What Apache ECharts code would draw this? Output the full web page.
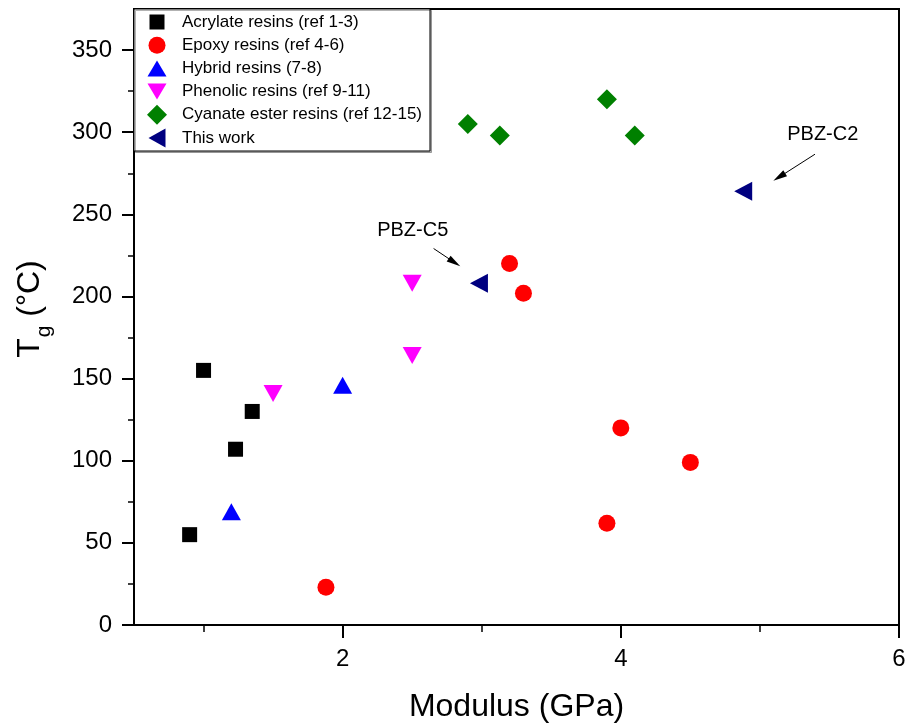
<!DOCTYPE html>
<html>
<head>
<meta charset="utf-8">
<script src="https://cdn.jsdelivr.net/npm/echarts@6/dist/echarts.min.js"></script>
<style>html,body{margin:0;padding:0;background:#fff;}#c{width:908px;height:727px;}</style>
</head>
<body>
<div id="c"></div>
<script>
const seriesNames = ['Acrylate resins (ref 1-3)','Epoxy resins (ref 4-6)','Hybrid resins (7-8)','Phenolic resins (ref 9-11)','Cyanate ester resins (ref 12-15)','This work'];
const acrylate = [[0.9,55],[1.0,155],[1.23,107],[1.35,130]];
const epoxy = [[1.88,23],[3.2,220],[3.3,202],[3.9,62],[4.0,120],[4.5,99]];
const hybrid = [[1.2,69],[2.0,146]];
const phenolic = [[1.5,141],[2.5,164],[2.5,208]];
const cyanate = [[2.9,305],[3.13,298],[3.9,320],[4.1,298]];
const thisWork = [[2.98,208],[4.88,264]];
const xMajorTicks = [2,4,6];
const xMinorTicks = [1,3,5];
const yMajorTicks = [0,50,100,150,200,250,300,350];
const yMinorTicks = [25,75,125,175,225,275,325];
const annotations = [
  {name:'PBZ-C5', text:[2.504,240], from:[2.654,229.2], to:[2.804,220.7]},
  {name:'PBZ-C2', text:[5.452,298.7], from:[5.396,286.6], to:[5.139,272.7]}
];

const FONT = 'Liberation Sans, Arial, sans-serif';
const chart = echarts.init(document.getElementById('c'), null, {renderer:'canvas'});
const arrowPath = 'path://M0,0 M14,14 M7,0 L10.5,14 L3.5,14 Z';
const solid = c => ({color:c, opacity:1});
const legendIcons = [
  'path://M0,0 M20,20 M2.5,2.5 L17.5,2.5 L17.5,17.5 L2.5,17.5 Z',
  'path://M0,0 M20,20 M1.5,10 A8.5,8.5 0 1 1 18.5,10 A8.5,8.5 0 1 1 1.5,10 Z',
  'path://M0,0 M20,20 M0.5,18 L10,2 L19.5,18 Z',
  'path://M0,0 M20,20 M0.5,2 L19.5,2 L10,18 Z',
  'path://M0,0 M20,20 M10,0 L20,10 L10,20 L0,10 Z',
  'path://M0,0 M20,20 M1.5,10 L18.5,0.5 L18.5,19.5 Z'
];

const option = {
  animation:false,
  backgroundColor:'#fff',
  grid:{left:134,right:9,top:9,bottom:102,show:true,borderColor:'#000',borderWidth:2,backgroundColor:'transparent',outerBoundsMode:'none',containLabel:false},
  legend:{
    orient:'vertical', left:134, top:9, padding:[3,8,3,13], itemGap:3.2,
    itemWidth:20, itemHeight:20,
    textStyle:{fontSize:17, fontFamily:FONT, color:'#000', lineHeight:17, padding:[0,0,0,10]},
    borderColor:'#000', borderWidth:1, backgroundColor:'#fff',
    shadowColor:'rgba(0,0,0,0.3)', shadowOffsetX:1.5, shadowOffsetY:1.5, shadowBlur:0,
    data:seriesNames.map((n,i) => ({name:n, icon:legendIcons[i]}))
  },
  xAxis:[{
    type:'value', min:0.5, max:6, position:'bottom',
    name:'Modulus (GPa)', nameLocation:'middle', nameGap:66,
    nameTextStyle:{fontSize:32, fontFamily:FONT, color:'#000'},
    axisLine:{show:true, lineStyle:{color:'#000', width:2}},
    axisTick:{show:true, length:13, lineStyle:{color:'#000', width:2}, customValues:xMajorTicks},
    axisLabel:{show:true, fontSize:24, fontFamily:FONT, color:'#000', margin:22, customValues:xMajorTicks},
    splitLine:{show:false}
  },{
    type:'value', min:0.5, max:6, position:'bottom',
    axisLine:{show:false},
    axisTick:{show:true, length:7, lineStyle:{color:'#000', width:1.5}, customValues:xMinorTicks},
    axisLabel:{show:false},
    splitLine:{show:false}
  }],
  yAxis:[{
    type:'value', min:0, max:375, position:'left',
    name:'{t|T}{s|g}{n| (}{d|°}{n|C)}', nameLocation:'middle', nameGap:88, nameRotate:90,
    nameTextStyle:{
      fontFamily:FONT, color:'#000',
      rich:{
        t:{fontSize:32, fontFamily:FONT, color:'#000', lineHeight:32, verticalAlign:'top', padding:[0,0,0,16]},
        n:{fontSize:32, fontFamily:FONT, color:'#000', lineHeight:32, verticalAlign:'top'},
        d:{fontSize:30, fontFamily:FONT, color:'#000', lineHeight:32, verticalAlign:'top'},
        s:{fontSize:21, fontFamily:FONT, color:'#000', lineHeight:21, verticalAlign:'top', padding:[20,0,0,1]}
      }
    },
    axisLine:{show:true, lineStyle:{color:'#000', width:2}},
    axisTick:{show:true, length:12, lineStyle:{color:'#000', width:2}, customValues:yMajorTicks},
    axisLabel:{show:true, fontSize:24, fontFamily:FONT, color:'#000', margin:22, customValues:yMajorTicks},
    splitLine:{show:false}
  },{
    type:'value', min:0, max:375, position:'left', offset:0,
    axisLine:{show:false},
    axisTick:{show:true, length:6, lineStyle:{color:'#000', width:1.5}, customValues:yMinorTicks},
    axisLabel:{show:false},
    splitLine:{show:false}
  }],
  series:[
    {name:seriesNames[0], type:'scatter', data:acrylate, symbol:'rect', symbolSize:15, itemStyle:solid('#000000')},
    {name:seriesNames[1], type:'scatter', data:epoxy, symbol:'circle', symbolSize:17, itemStyle:solid('#ff0000')},
    {name:seriesNames[2], type:'scatter', data:hybrid, symbol:'triangle', symbolSize:[19,17], itemStyle:solid('#0000ff')},
    {name:seriesNames[3], type:'scatter', data:phenolic, symbol:'triangle', symbolRotate:180, symbolSize:[19,17], itemStyle:solid('#ff00ff')},
    {name:seriesNames[4], type:'scatter', data:cyanate, symbol:'diamond', symbolSize:20, itemStyle:solid('#008000')},
    {name:seriesNames[5], type:'scatter', data:thisWork, symbol:'triangle', symbolRotate:90, symbolSize:[19,18], itemStyle:solid('#000080'),
      markLine:{
        silent:true, animation:false,
        symbol:['none', arrowPath], symbolSize:14,
        lineStyle:{color:'#000', width:1, type:'solid', opacity:1},
        itemStyle:{color:'#000', opacity:1},
        label:{show:false},
        emphasis:{disabled:true},
        data:annotations.map(a => [{coord:a.from}, {coord:a.to}])
      },
      markPoint:{
        silent:true, animation:false,
        symbol:'rect', symbolSize:1, itemStyle:{color:'rgba(0,0,0,0)'},
        label:{show:true, position:'inside', formatter:'{b}', fontSize:20, fontFamily:FONT, color:'#000'},
        data:annotations.map(a => ({name:a.name, coord:a.text}))
      }
    }
  ]
};
chart.setOption(option);
</script>
</body>
</html>
